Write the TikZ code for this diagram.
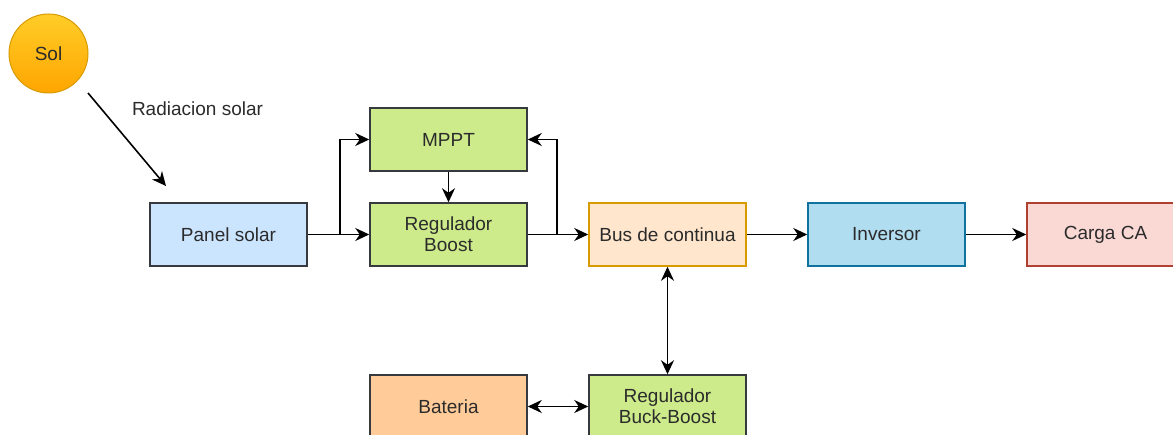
\documentclass[tikz,border=0pt]{standalone}
\usepackage{fontspec}
\setmainfont{Liberation Sans}
\usetikzlibrary{arrows.meta}
\definecolor{txtcol}{HTML}{2B2B2B}
\definecolor{greyline}{HTML}{36393D}
\definecolor{panelfill}{HTML}{CCE5FF}
\definecolor{greenfill}{HTML}{CDEB8B}
\definecolor{busfill}{HTML}{FFE6CC}
\definecolor{busline}{HTML}{D79B00}
\definecolor{invfill}{HTML}{B1DDF0}
\definecolor{invline}{HTML}{10739E}
\definecolor{cargafill}{HTML}{FAD9D5}
\definecolor{cargaline}{HTML}{AE4132}
\definecolor{batfill}{HTML}{FFCC99}
\definecolor{sunA}{HTML}{FFCD28}
\definecolor{sunB}{HTML}{FFA500}
\tikzset{
  box/.style={draw=greyline, rectangle, line width=1.5pt, minimum width=157pt,
    minimum height=63pt, inner sep=0pt, align=center, text=txtcol,
    font=\fontsize{19}{21}\selectfont},
  arr/.style={line width=1.6pt, -{Stealth[length=14pt,width=13pt,inset=4.5pt]}},
  arrtwo/.style={line width=1.6pt, {Stealth[length=14pt,width=13pt,inset=4.5pt]}-{Stealth[length=14pt,width=13pt,inset=4.5pt]}}
}

\begin{document}
\begin{tikzpicture}[x=1pt,y=-1pt]
			%%%%% START %%%%%
			\useasboundingbox (0,0) rectangle (1173,435);
			
			\node[circle, draw=busline, line width=1pt, top color=sunA, bottom color=sunB,
			  minimum size=79pt, inner sep=0pt, text=txtcol, font=\fontsize{19}{21}\selectfont]
			  (sol) at (48.5, 53.5) {Sol};
			\coordinate (radA) at (88, 93);
			\coordinate (radB) at (166, 186);
			\draw[arr] (radA) -- (radB);
			\node[text=txtcol, font=\fontsize{19}{21}\selectfont] (radlbl) at (197.5, 109) {Radiacion solar};
			
			\node[box, fill=panelfill] (panel) at (228.5, 234.5) {Panel solar};
			\node[box, fill=greenfill] (mppt) at (448.5, 139.5) {MPPT};
			\node[box, fill=greenfill] (boost) at (448.5, 234.5) {Regulador\\Boost};
			\node[box, fill=busfill, draw=busline] (bus) at (667.5, 234.5) {Bus de continua};
			\node[box, fill=invfill, draw=invline] (inv) at (886.5, 234.5) {Inversor};
			\node[box, fill=cargafill, draw=cargaline] (carga) at (1105.5, 234.5) {Carga CA};
			\node[box, fill=batfill] (bat) at (448.5, 406.5) {Bateria};
			\node[box, fill=greenfill] (buck) at (667.5, 406.5) {Regulador\\Buck-Boost};
			
			\coordinate (splitA) at (340, 234.5);
			\coordinate (splitB) at (557, 234.5);
			
			\draw[arr] (panel) -- (boost);
			\draw[arr] (splitA) |- (mppt);
			\draw[arr] (mppt) -- (boost);
			\draw[arr] (boost) -- (bus);
			\draw[arr] (splitB) |- (mppt);
			\draw[arr] (bus) -- (inv);
			\draw[arr] (inv) -- (carga);
			\draw[arrtwo] (bus) -- (buck);
			\draw[arrtwo] (bat) -- (buck);
			
			%%%%% END %%%%%
		\end{tikzpicture}
\end{document}
